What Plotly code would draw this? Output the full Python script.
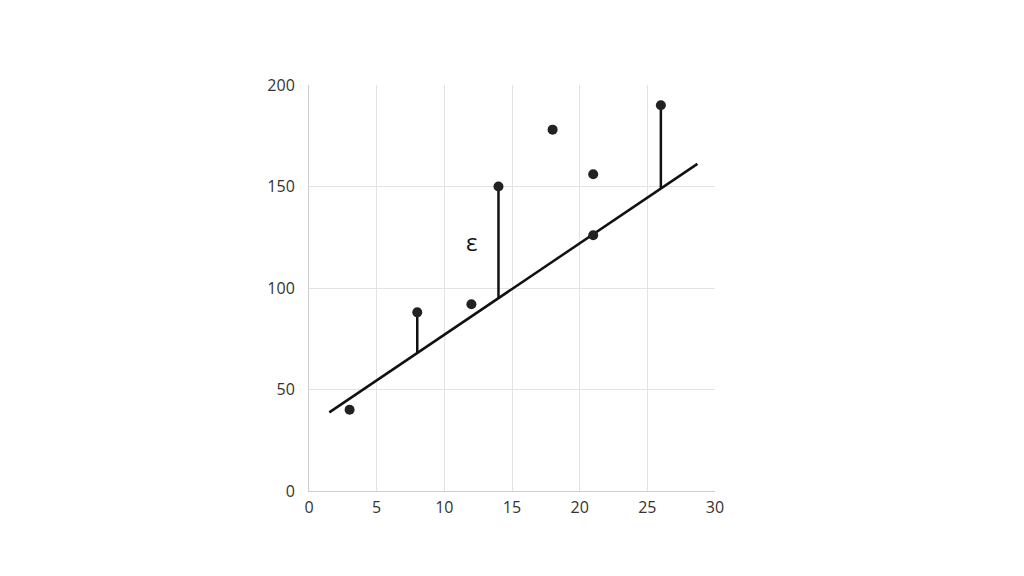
import plotly.graph_objects as go

x_pts = [3, 8, 12, 14, 18, 21, 21, 26]
y_pts = [40, 88, 92, 150, 178, 156, 126, 190]
line_x = [1.5, 28.7]
slope, intercept = 4.5, 32
resid_x = [8, 14, 26]
resid_y = [88, 150, 190]
x_ticks = [0, 5, 10, 15, 20, 25, 30]
y_ticks = [0, 50, 100, 150, 200]

fig = go.Figure()
fig.add_trace(go.Scatter(x=line_x, y=[slope * v + intercept for v in line_x], mode="lines",
                         line=dict(color="#111111", width=2.5), showlegend=False, hoverinfo="skip"))
for rx, ry in zip(resid_x, resid_y):
    fig.add_trace(go.Scatter(x=[rx, rx], y=[ry, slope * rx + intercept], mode="lines",
                             line=dict(color="#111111", width=2.5), showlegend=False, hoverinfo="skip"))
fig.add_trace(go.Scatter(x=x_pts, y=y_pts, mode="markers",
                         marker=dict(color="#222222", size=10), showlegend=False))
fig.add_annotation(x=12, y=123, text="ε", showarrow=False, font=dict(size=24, color="#111111", family="Open Sans"))

fig.update_layout(
    width=1024, height=576, paper_bgcolor="white", plot_bgcolor="white",
    margin=dict(l=301, r=317, t=77, b=93),
    font=dict(family="Open Sans", size=16, color="#333333"),
)
fig.update_xaxes(range=[0, 30], tickvals=x_ticks, showgrid=True, gridcolor="#e3e3e3", gridwidth=1,
                 showline=True, linecolor="#cccccc", linewidth=1, mirror=False, zeroline=False,
                 ticks="", ticklabelstandoff=2, fixedrange=True)
fig.update_yaxes(range=[0, 200], tickvals=y_ticks, showgrid=True, gridcolor="#e3e3e3", gridwidth=1,
                 showline=True, linecolor="#cccccc", linewidth=1, zeroline=False,
                 ticks="", ticklabelstandoff=10, fixedrange=True)
fig.write_html("out.html")
